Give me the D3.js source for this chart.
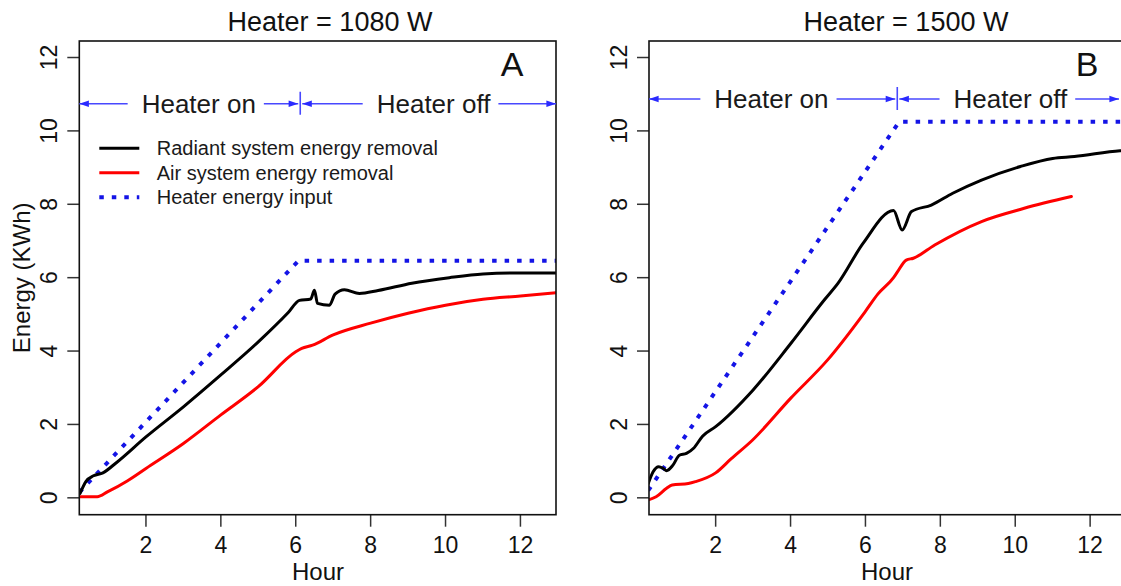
<!DOCTYPE html>
<meta charset="utf-8">
<style>

body {
  margin: 0;
  background: white;
}

svg {
  font-family: "Liberation Sans", Arial, sans-serif;
}

.box {
  fill: none;
  stroke: #111;
  stroke-width: 1.6px;
}

.ticks line {
  stroke: #333;
  stroke-width: 1.5px;
}

.ticks text {
  font-size: 23px;
  fill: #111;
}

.series {
  fill: none;
  stroke-linejoin: round;
  stroke-linecap: round;
}

.radiant { stroke: #000; stroke-width: 3px; }
.air { stroke: #f00; stroke-width: 3px; }
.heater { stroke: #1414e6; stroke-width: 4px; stroke-dasharray: 4.5px 8px; stroke-linecap: butt; }

.phase line {
  stroke: #4848ff;
  stroke-width: 1.6px;
}

.phase text {
  font-size: 26px;
  fill: #1a1a1a;
  text-anchor: middle;
}

.legend text {
  font-size: 20px;
  fill: #1a1a1a;
}

</style>
<svg></svg>
<script src="https://cdn.jsdelivr.net/npm/d3@7"></script>
<script>

// values (hour, kWh)
var radiantA = [[0.24,0.12],[0.4,0.45],[0.6,0.6],[0.85,0.68],[1.2,0.95],[2,1.66],[3,2.48],[4,3.35],[5,4.25],[5.8,5.05],[6.1,5.38],[6.4,5.42],[6.5,5.66],[6.58,5.3],[6.9,5.25],[7.05,5.55],[7.3,5.67],[7.7,5.57],[8.2,5.65],[9.1,5.85],[10.1,6.0],[11,6.1],[12,6.13],[12.95,6.13]];
var airA = [[0.24,0.03],[0.7,0.03],[0.97,0.16],[1.5,0.46],[2,0.8],[3,1.48],[4,2.26],[5,3.03],[6,3.98],[6.16,4.07],[6.45,4.16],[7,4.44],[8,4.76],[9,5.03],[10,5.25],[11,5.41],[12,5.5],[12.95,5.59]];
var heaterA = [[0.22,0.15],[6.07,6.46],[12.95,6.46]];

var radiantB = [[0.2,0.39],[0.33,0.71],[0.48,0.85],[0.6,0.8],[0.69,0.74],[0.86,0.89],[1.03,1.16],[1.22,1.21],[1.41,1.35],[1.65,1.68],[2,1.94],[3,2.94],[4,4.2],[4.9,5.39],[5.27,5.85],[5.94,6.94],[6.75,7.83],[6.98,7.3],[7.23,7.8],[7.76,7.98],[8.33,8.3],[9.1,8.66],[10.14,9.03],[11,9.25],[11.58,9.3],[12.8,9.46],[12.95,9.47]];
var airB = [[0.2,-0.06],[0.41,0.03],[0.69,0.26],[0.84,0.35],[1.27,0.39],[1.46,0.44],[2,0.68],[2.41,1.06],[2.98,1.57],[4,2.71],[4.99,3.76],[5.99,5.07],[6.33,5.55],[6.75,6.0],[6.85,6.15],[7.09,6.48],[7.28,6.53],[7.85,6.89],[9.1,7.53],[10.24,7.89],[11.5,8.21]];
var heaterB = [[0.2,0.2],[6.9,10.25],[12.95,10.25]];

var hourTicks = [2, 4, 6, 8, 10, 12];
var energyTicks = [0, 2, 4, 6, 8, 10, 12];
var titles = ['Heater = 1080 W', 'Heater = 1500 W'];
var panelLetters = ['A', 'B'];
var switchHours = [6.12, 6.85];
var phaseLabels = ['Heater on', 'Heater off'];
var legendLabels = ['Radiant system energy removal', 'Air system energy removal', 'Heater energy input'];
var legendClasses = ['radiant', 'air', 'heater'];

var width = 1121;
var height = 586;

var svg = d3.select('svg')
  .attr('width', width)
  .attr('height', height);

var defs = svg.append('defs');
defs.append('marker')
  .attr('id', 'head')
  .attr('viewBox', '0 -5 12 10')
  .attr('refX', 12)
  .attr('refY', 0)
  .attr('markerUnits', 'userSpaceOnUse')
  .attr('markerWidth', 12)
  .attr('markerHeight', 8)
  .attr('orient', 'auto')
  .append('path')
  .attr('d', 'M0,-4L12,0L0,4Z')
  .attr('fill', '#2a2aff');

var panels = [
  { left: 79.3, titleX: 330, letterX: 512, arrowY: 10.74, onX: 3.41, offX: 9.68,
    radiant: radiantA, air: airA, heater: heaterA },
  { left: 649, titleX: 906, letterX: 1087, arrowY: 10.87, onX: 3.49, offX: 9.87,
    radiant: radiantB, air: airB, heater: heaterB }
];

var boxW = 476.7;
var plotTop = 41, plotBottom = 514.7;

var y = d3.scaleLinear().domain([-0.46, 12.45]).range([plotBottom, plotTop]);

panels.forEach(function (p, i) {
  var x = d3.scaleLinear().domain([0.22, 12.95]).range([p.left, p.left + boxW]);
  var g = svg.append('g');

  g.append('clipPath')
    .attr('id', 'clip' + i)
    .append('rect')
    .attr('x', p.left)
    .attr('y', plotTop)
    .attr('width', boxW)
    .attr('height', plotBottom - plotTop);

  // x ticks
  var xt = g.append('g').attr('class', 'ticks')
    .selectAll('g')
    .data(hourTicks)
    .enter().append('g')
    .attr('transform', function (d) { return 'translate(' + x(d) + ',0)'; });
  xt.append('line').attr('y1', plotBottom).attr('y2', plotBottom + 12);
  xt.append('text')
    .attr('y', plotBottom + 38)
    .attr('text-anchor', 'middle')
    .text(function (d) { return d; });

  // y ticks, labels turned like R's default
  var yt = g.append('g').attr('class', 'ticks')
    .selectAll('g')
    .data(energyTicks)
    .enter().append('g')
    .attr('transform', function (d) { return 'translate(0,' + y(d) + ')'; });
  yt.append('line').attr('x1', p.left - 12).attr('x2', p.left);
  yt.append('text')
    .attr('transform', 'translate(' + (p.left - 22) + ',0) rotate(-90)')
    .attr('text-anchor', 'middle')
    .text(function (d) { return d; });

  var line = d3.line()
    .x(function (d) { return x(d[0]); })
    .y(function (d) { return y(d[1]); });

  var smooth = d3.line()
    .curve(d3.curveMonotoneX)
    .x(function (d) { return x(d[0]); })
    .y(function (d) { return y(d[1]); });

  var plot = g.append('g').attr('clip-path', 'url(#clip' + i + ')');
  plot.append('path').attr('class', 'series heater').attr('d', line(p.heater));
  plot.append('path').attr('class', 'series air').attr('d', smooth(p.air));
  plot.append('path').attr('class', 'series radiant').attr('d', smooth(p.radiant));

  g.append('rect')
    .attr('class', 'box')
    .attr('x', p.left)
    .attr('y', plotTop)
    .attr('width', boxW)
    .attr('height', plotBottom - plotTop);

  g.append('text')
    .attr('x', p.titleX)
    .attr('y', 31)
    .attr('text-anchor', 'middle')
    .attr('font-size', 27)
    .attr('fill', '#111')
    .text(titles[i]);

  g.append('text')
    .attr('x', p.letterX)
    .attr('y', 76)
    .attr('text-anchor', 'middle')
    .attr('font-size', 34)
    .attr('fill', '#111')
    .text(panelLetters[i]);

  // heater on / off annotation
  var ay = y(p.arrowY);
  var sw = x(switchHours[i]);
  var phase = g.append('g').attr('class', 'phase');
  phase.append('line')
    .attr('x1', sw).attr('x2', sw)
    .attr('y1', ay - 12).attr('y2', ay + 11);

  var spans = [[x.range()[0], sw], [sw, Math.min(x.range()[1], width - 2)]];
  [p.onX, p.offX].forEach(function (cx, k) {
    var t = phase.append('text')
      .attr('x', x(cx))
      .attr('y', ay + 9)
      .text(phaseLabels[k]);
    var w = t.node().getComputedTextLength();
    var a = spans[k][0], b = spans[k][1];
    phase.append('line')
      .attr('x1', x(cx) - w / 2 - 14).attr('x2', a + (k ? 2 : 0))
      .attr('y1', ay).attr('y2', ay)
      .attr('marker-end', 'url(#head)');
    phase.append('line')
      .attr('x1', x(cx) + w / 2 + 8).attr('x2', b - (k ? 0 : 2))
      .attr('y1', ay).attr('y2', ay)
      .attr('marker-end', 'url(#head)');
  });
});

// axis titles
svg.append('text')
  .attr('x', 318)
  .attr('y', 580)
  .attr('text-anchor', 'middle')
  .attr('font-size', 24)
  .attr('fill', '#111')
  .text('Hour');

svg.append('text')
  .attr('x', 887)
  .attr('y', 580)
  .attr('text-anchor', 'middle')
  .attr('font-size', 24)
  .attr('fill', '#111')
  .text('Hour');

svg.append('text')
  .attr('transform', 'translate(30,' + ((plotTop + plotBottom) / 2) + ') rotate(-90)')
  .attr('text-anchor', 'middle')
  .attr('font-size', 24)
  .attr('fill', '#111')
  .text('Energy (KWh)');

// legend in panel A
var legend = svg.append('g')
  .attr('class', 'legend')
  .selectAll('g')
  .data(legendLabels)
  .enter().append('g')
  .attr('transform', function (d, i) { return 'translate(0,' + (148.3 + i * 24.5) + ')'; });

legend.append('line')
  .attr('class', function (d, i) { return 'series ' + legendClasses[i]; })
  .attr('x1', 99.3)
  .attr('x2', 139.3)
  .style('stroke-linecap', 'butt');

legend.append('text')
  .attr('x', 156.7)
  .attr('dy', '0.35em')
  .text(function (d) { return d; });

</script>
